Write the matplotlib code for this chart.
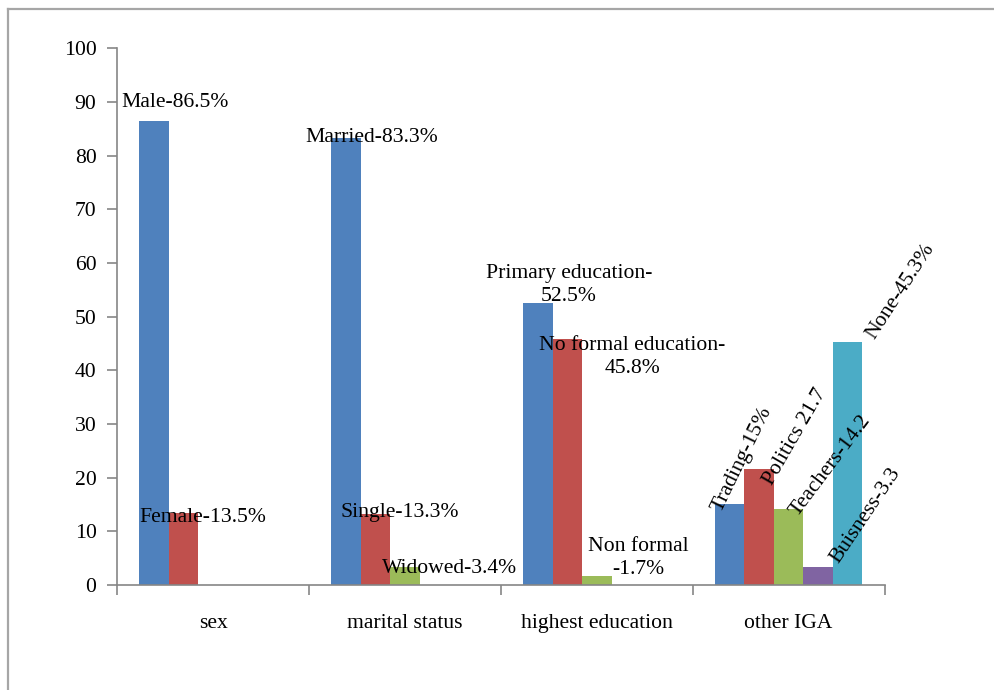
import matplotlib
matplotlib.use("Agg")
import matplotlib.pyplot as plt
from matplotlib.lines import Line2D
import numpy as np

plt.rcParams['font.family'] = ['Liberation Serif', 'DejaVu Serif']

categories = ['sex', 'marital status', 'highest education', 'other IGA']
series_blue = [86.5, 83.3, 52.5, 15.0]
series_red = [13.5, 13.3, 45.8, 21.7]
series_green = [0.0, 3.4, 1.7, 14.2]
series_purple = [0.0, 0.0, 0.0, 3.3]
series_cyan = [0.0, 0.0, 0.0, 45.3]
series_colors = ['#4F81BD', '#C0504D', '#9BBB59', '#8064A2', '#4BACC6']
y_ticks = [0, 10, 20, 30, 40, 50, 60, 70, 80, 90, 100]

# horizontal labels: text, x, y (data), ha
flat_labels = [
    ('Male-86.5%', -0.477, 89.0, 'left'),
    ('Female-13.5%', -0.385, 11.8, 'left'),
    ('Married-83.3%', 0.482, 82.6, 'left'),
    ('Single-13.3%', 0.665, 12.7, 'left'),
    ('Widowed-3.4%', 0.879, 2.2, 'left'),
    ('Primary education-\n52.5%', 1.855, 52.9, 'center'),
    ('No formal education-\n45.8%', 2.186, 39.5, 'center'),
    ('Non formal\n-1.7%', 2.215, 2.0, 'center'),
]
# rotated labels: text, x, y (baseline start), angle
rot_labels = [
    ('Trading-15%', 2.648, 13.4, 64),
    ('Politics 21.7', 2.911, 18.5, 60),
    ('Teachers-14.2', 3.048, 12.7, 53),
    ('Buisness-3.3', 3.258, 3.9, 56),
    ('None-45.3%', 3.448, 45.6, 57),
]

fig = plt.figure(figsize=(9.95, 6.9), dpi=100)
ax = fig.add_axes([117.3 / 995, 105 / 690, 767.2 / 995, 536.7 / 690])

all_series = [series_blue, series_red, series_green, series_purple, series_cyan]
w = 1 / 6.5
x = np.arange(len(categories))
for s, (vals, col) in enumerate(zip(all_series, series_colors)):
    ax.bar(x + (s - 2) * w, vals, width=w, color=col, edgecolor='none', zorder=2)

ax.set_xlim(-0.5, len(categories) - 0.5)
ax.set_ylim(0, 100)
ax.set_yticks(y_ticks)
ax.set_yticklabels([str(t) for t in y_ticks], fontsize=15.6)
ax.set_xticks(np.arange(len(categories) + 1) - 0.5)
ax.set_xticklabels([])
ax.set_xticks(x, minor=True)
ax.set_xticklabels(categories, minor=True, fontsize=15.6)
ax.tick_params(axis='x', which='major', length=7, width=1.2, color='#868686', direction='out')
ax.tick_params(axis='x', which='minor', length=0, pad=21)
ax.tick_params(axis='y', length=7, width=1.2, color='#868686', direction='out', pad=8)

for sp in ['top', 'right']:
    ax.spines[sp].set_visible(False)
for sp in ['left', 'bottom']:
    ax.spines[sp].set_color('#868686')
    ax.spines[sp].set_linewidth(1.2)

for txt, tx, ty, ha in flat_labels:
    ax.text(tx, ty, txt, ha=ha, va='baseline', fontsize=15.6, linespacing=1.32,
            multialignment='center', zorder=3)

for txt, tx, ty, ang in rot_labels:
    ax.text(tx, ty, txt, ha='left', va='baseline', rotation=ang,
            rotation_mode='anchor', fontsize=15.6, zorder=3)

# outer frame (left and top edges visible)
fig.add_artist(Line2D([8 / 995, 8 / 995], [0, 1 - 9 / 690], transform=fig.transFigure,
                      color='#a6a6a6', linewidth=1.6))
fig.add_artist(Line2D([8 / 995, 1], [1 - 9 / 690, 1 - 9 / 690], transform=fig.transFigure,
                      color='#a6a6a6', linewidth=1.6))

fig.savefig('out.png', dpi=100)
